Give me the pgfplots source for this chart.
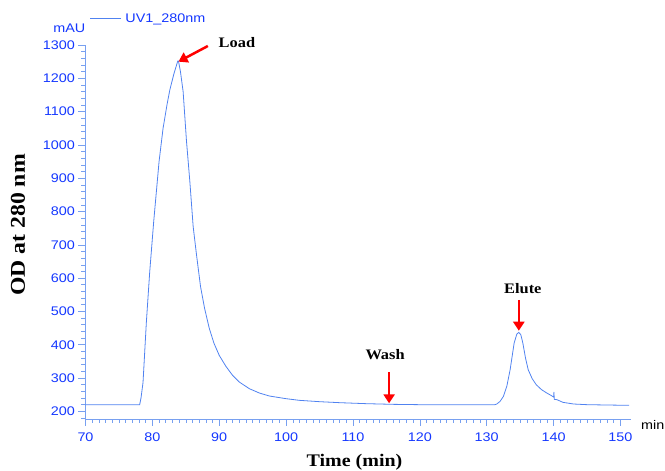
\documentclass[border=0pt]{standalone}
\usepackage{fontspec}
\setmainfont{Liberation Sans}[FakeStretch=1.15]
\newfontfamily\tnr{Liberation Serif}[FakeStretch=1.13]
\usepackage{pgfplots}
\pgfplotsset{compat=1.18}
\usetikzlibrary{arrows.meta}
\definecolor{trace}{RGB}{80,130,240}
\definecolor{lab}{RGB}{20,55,255}
\definecolor{axc}{RGB}{120,160,240}

\begin{document}
\begin{tikzpicture}
\path[use as bounding box] (-85.5pt,-52pt) rectangle (579.5pt,419pt);
\begin{axis}[
  scale only axis, width=545pt, height=374pt,
  at={(0,0)}, anchor=south west,
  xmin=70, xmax=151.5, ymin=177, ymax=1300,
  axis lines=left,
  axis line style={-, axc, line width=0.8pt},
  tick style={axc, line width=0.6pt},
  tick align=outside,
  major tick length=7pt, minor tick length=4pt,
  xtick distance=10, ytick distance=100,
  minor x tick num=9, minor y tick num=4,
  ticklabel style={font=\fontsize{12.5}{14}\selectfont, text=lab},
  xticklabel style={yshift=-3pt},
  /pgf/number format/assume math mode=true,
  /pgf/number format/set thousands separator={},
  xlabel={\tnr\bfseries Time (min)},
  xlabel style={font=\fontsize{17.7}{20}\selectfont, at={(rel axis cs:0.4936,0)}, anchor=base, yshift=-48pt},
  ylabel={\tnr\bfseries OD at 280 nm},
  ylabel style={font=\fontsize{21}{24}\selectfont, at={(axis description cs:-0.124,0.519)}, anchor=center},
  legend style={at={(rel axis cs:0,1)}, anchor=south west, draw=none, fill=none,
    font=\fontsize{12.5}{14}\selectfont, text=lab, xshift=4pt, yshift=19pt, inner sep=0pt,
    nodes={inner xsep=4pt}},
  legend image code/.code={\draw[#1] (0pt,0pt) -- (31pt,0pt);},
  clip=false,
]
\addplot[trace, line width=0.8pt] coordinates {
(70,220) (74,220) (78.1,220) (78.3,240) (78.6,286) (79.1,467) (79.6,618)
(80.2,770) (80.6,860) (81.0,950) (81.6,1050) (82.2,1122) (82.6,1164)
(83.2,1212) (83.8,1252) (83.9,1252) (84.2,1220) (84.6,1160) (85.1,1012)
(85.6,891) (86.1,755) (86.6,670) (87.2,575) (87.8,510) (88.5,450)
(89.2,405) (90.0,368) (91.0,335) (92.0,308) (93.0,288) (94.5,268)
(96.0,255) (97.5,246) (100,238) (102,233) (105,229) (108,226) (112,223)
(116,221) (120,220) (125,220) (130,220) (131.2,220) (131.5,222) (132,230)
(132.5,245) (133,275) (133.5,325) (134.1,405) (134.5,432) (134.8,437)
(135.1,430) (135.4,405) (135.8,360) (136.2,325) (136.8,298) (137.4,280)
(138.2,265) (138.9,256) (139.6,248) (140.0,243) (140.05,258) (140.1,236)
(140.5,235) (141.4,227) (143,222) (145,220) (148,219) (151.3,218)
};
\addlegendentry{UV1\_280nm}

\node[anchor=base east, inner sep=0pt, font=\fontsize{12.5}{14}\selectfont, text=lab]
  at (rel axis cs:0,1) [yshift=12pt] {mAU};
\node[anchor=base west, inner sep=0pt, font=\fontsize{12.5}{14}\selectfont, text=black]
  at (rel axis cs:1,0) [xshift=10.5pt, yshift=-11pt] {min};

\draw[red, line width=2.5pt, -{Triangle[length=9pt,width=11pt]}]
  (axis cs:88.3,1297) -- (axis cs:83.9,1250);
\draw[red, line width=2.5pt, -{Triangle[length=9pt,width=11pt]}]
  (axis cs:115.4,317) -- (axis cs:115.4,224);
\draw[red, line width=2.5pt, -{Triangle[length=9pt,width=11pt]}]
  (axis cs:134.8,535) -- (axis cs:134.8,442);

\node[font=\tnr\bfseries\fontsize{14.5}{16}\selectfont] at (axis cs:92.65,1306) {Load};
\node[font=\tnr\bfseries\fontsize{14.5}{16}\selectfont] at (axis cs:114.8,371) {Wash};
\node[font=\tnr\bfseries\fontsize{14.5}{16}\selectfont] at (axis cs:135.4,568) {Elute};
\end{axis}
\end{tikzpicture}
\end{document}
